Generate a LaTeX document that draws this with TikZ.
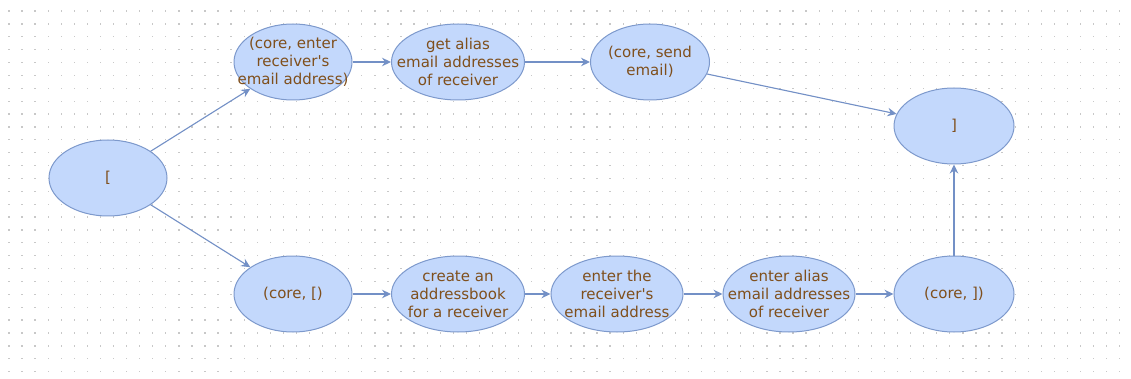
\documentclass[tikz,border=0pt]{standalone}
\usepackage{fontspec}
\setmainfont{DejaVu Sans}
\usetikzlibrary{shapes.geometric,arrows.meta}
\definecolor{nodefill}{HTML}{C3D8FC}
\definecolor{nodeline}{HTML}{7D99CC}
\definecolor{txt}{HTML}{7F4F1C}
\definecolor{edgecol}{HTML}{7390C6}
\definecolor{dotcol}{HTML}{C8C8C8}
\newcommand{\apos}{\textquotesingle}
\begin{document}
\begin{tikzpicture}[x=1pt,y=-1pt,
  state/.style={ellipse, draw=nodeline, fill=nodefill, line width=1pt, inner sep=0pt,
    minimum height=76pt},
  lbl/.style={text=txt, font=\fontsize{15}{18}\selectfont, align=center, inner sep=0pt},
  conn/.style={draw=edgecol, line width=1.1pt, -{Stealth[length=9pt,width=8.5pt,inset=3pt]}}
]
\useasboundingbox (0,0) rectangle (1131,379);
\fill[white] (0,0) rectangle (1131,379);
% dotted grid
\foreach \i in {0,...,85}{
  \foreach \j in {0,...,28}{
    \fill[dotcol] ({9+13.067*\i-0.65},{11+12.88*\j-0.65}) rectangle ++(1.3,1.3);
  }
}
% nodes
\node[state, minimum width=118pt, label={[lbl]center:{[}}] (A) at (108,178) {};
\node[state, minimum width=118pt, label={[lbl]center:{(core, enter\\receiver\apos s\\email address)}}] (B) at (293,62) {};
\node[state, minimum width=133pt, label={[lbl]center:{get alias\\email addresses\\of receiver}}] (C) at (458,62) {};
\node[state, minimum width=119pt, label={[lbl]center:{(core, send\\email)}}] (D) at (650,62) {};
\node[state, minimum width=120pt, label={[lbl]center:{]}}] (E) at (954,126) {};
\node[state, minimum width=118pt, label={[lbl]center:{(core, [)}}] (F) at (293,294) {};
\node[state, minimum width=133pt, label={[lbl]center:{create an\\addressbook\\for a receiver}}] (G) at (458,294) {};
\node[state, minimum width=132pt, label={[lbl]center:{enter the\\receiver\apos s\\email address}}] (H) at (617,294) {};
\node[state, minimum width=132pt, label={[lbl]center:{enter alias\\email addresses\\of receiver}}] (I) at (789,294) {};
\node[state, minimum width=120pt, label={[lbl]center:{(core, ])}}] (J) at (954,294) {};
% connectors
\draw[conn] (A) -- (B);
\draw[conn] (A) -- (F);
\draw[conn] (B) -- (C);
\draw[conn] (C) -- (D);
\draw[conn] (D) -- (E);
\draw[conn] (F) -- (G);
\draw[conn] (G) -- (H);
\draw[conn] (H) -- (I);
\draw[conn] (I) -- (J);
\draw[conn] (J) -- (E);
\end{tikzpicture}
\end{document}
